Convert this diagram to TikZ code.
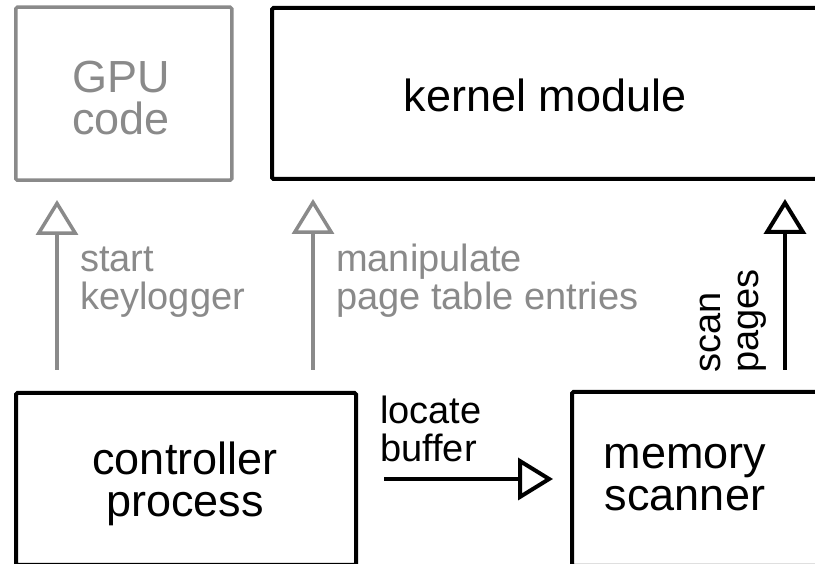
\documentclass[tikz,border=0pt]{standalone}
\usepackage{fontspec}
\setmainfont{Liberation Sans}
\usetikzlibrary{arrows.meta,calc}
\definecolor{lgray}{RGB}{138,138,138}
\begin{document}
\begin{tikzpicture}[x=1pt,y=1pt,
  box/.style={draw, line width=4pt, rounded corners=1.5pt, inner sep=0pt, anchor=south west},
  gbox/.style={box, draw=lgray, line width=3.5pt},
  big/.style={font=\fontsize{45}{42}\selectfont, align=center, inner sep=0pt},
  lbl/.style={font=\fontsize{38}{38}\selectfont, align=left, inner sep=0pt, anchor=west},
  arr/.style={line width=4pt, -{Triangle[open, length=35pt, width=42pt]}},
  garr/.style={arr, draw=lgray, line width=3.5pt}]
\useasboundingbox (0,0) rectangle (815,564);
\clip (0,0) rectangle (815,564);
% boxes
\node[gbox, minimum width=216pt, minimum height=173pt] (gpu) at (14,382) {};
\node[box, minimum width=570pt, minimum height=171pt] (kern) at (270,383) {};
\node[box, minimum width=340pt, minimum height=172pt] (ctrl) at (14,-3) {};
\node[box, minimum width=300pt, minimum height=174pt] (mem) at (570,-4) {};
% box texts
\node[big, text=lgray] (gputxt) at (121,466) {GPU\\code};
\node[big] (kerntxt) at (545,468.5) {kernel module};
\node[big] (ctrltxt) at (185,80) {controller\\process};
\node[big] (memtxt) at (685,86) {memory\\scanner};
% arrows
\coordinate (a1) at (57,0);
\coordinate (a2) at (313,0);
\coordinate (a3) at (785,0);
\draw[garr] ($(ctrl.north -| a1)+(0,21)$) -- ($(gpu.south -| a1)+(0,-18)$);
\draw[garr] ($(ctrl.north -| a2)+(0,21)$) -- ($(kern.south -| a2)+(0,-18)$);
\draw[arr] ($(mem.north -| a3)+(0,20)$) -- ($(kern.south -| a3)+(0,-18)$);
\draw[arr] ($(ctrl.east)+(26,0)$) -- ($(mem.west)+(-17,0)$);
% labels
\node[lbl, text=lgray] (l1) at (80,282) {start\\keylogger};
\node[lbl, text=lgray] (l2) at (336,283) {manipulate\\page table entries};
\node[lbl] (l3) at (380,135) {locate\\buffer};
\node[lbl, rotate=90] (l4) at (733,191) {scan\\pages};
\end{tikzpicture}
\end{document}
